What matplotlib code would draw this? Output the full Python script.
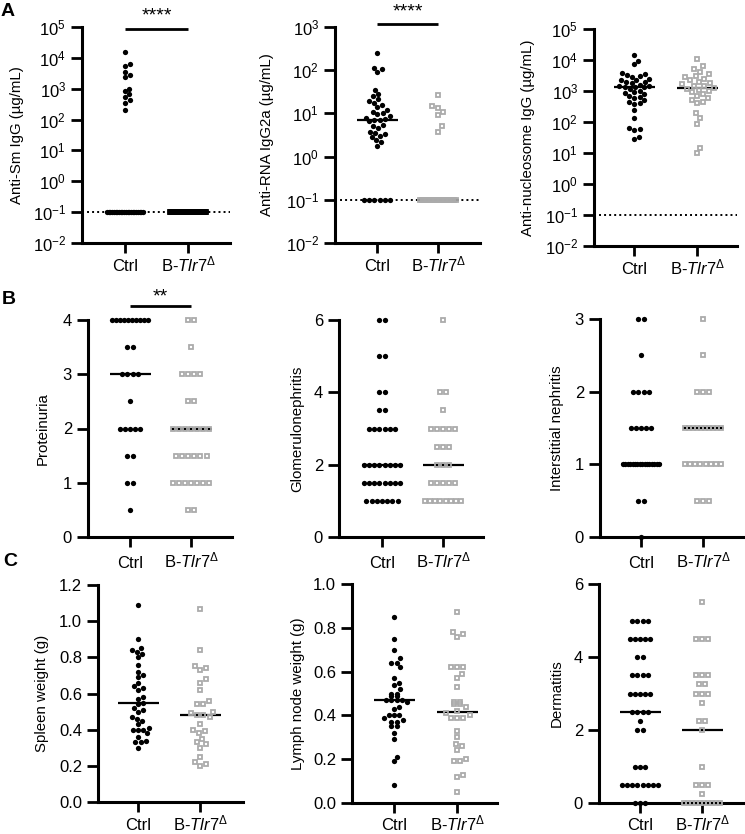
import numpy as np
import matplotlib
matplotlib.use("Agg")
import matplotlib.pyplot as plt
from matplotlib.transforms import blended_transform_factory

plt.rcParams.update({
    "font.family": ["Liberation Sans", "DejaVu Sans"],
    "mathtext.fontset": "custom",
    "mathtext.rm": "Liberation Sans",
    "mathtext.it": "Liberation Sans:italic",
    "mathtext.bf": "Liberation Sans:bold",
    "mathtext.default": "rm",
})

# ---------------- data ----------------
groups = ["Ctrl", r"B-$\mathit{Tlr7}^{\Delta}$"]

sm_ctrl = [15700, 6530, 5350, 3490, 2720, 2340, 1000, 820, 670, 520, 420, 340, 207] + [0.1] * 22
sm_b = [0.1] * 30

rna_ctrl = [256, 115, 104, 92, 35, 28, 25, 21, 19.5, 17.5, 16, 14, 12, 11, 10, 9.5, 8.5, 8,
            7.5, 7, 7, 6.5, 5.5, 5, 4.5, 3.8, 3.5, 3.3, 3.0, 2.8, 2.4, 2.2, 1.8] + [0.1] * 6
rna_b = [27, 15, 13, 11, 9, 5, 3.8] + [0.1] * 23

nuc_ctrl = [14500, 9600, 7400, 3700, 3500, 3200, 3000, 2800, 2500, 2300, 2200, 2000, 1900,
            1800, 1600, 1500, 1400, 1350, 1320, 1300, 1150, 1000, 900, 850, 800, 700, 650,
            600, 500, 450, 400, 380, 250, 130, 66, 60, 55, 34, 28]
nuc_b = [10500, 6400, 5000, 4200, 3500, 3000, 2800, 2500, 2200, 2000, 1800, 1700, 1500, 1400,
         1250, 1200, 1100, 1000, 900, 800, 700, 600, 500, 450, 400, 190, 130, 86, 15, 10]

prot_ctrl = [4] * 10 + [3.5] * 2 + [3] * 4 + [2.5] + [2] * 5 + [1.5] * 2 + [1] * 2 + [0.5]
prot_b = [4] * 2 + [3.5] + [3] * 4 + [2.5] * 2 + [2] * 7 + [1.5] * 6 + [1] * 7 + [0.5] * 2

glom_ctrl = [6] * 2 + [5] * 2 + [4] * 2 + [3.5] * 2 + [3] * 6 + [2] * 8 + [1.5] * 8 + [1] * 7
glom_b = [6] + [4] * 2 + [3.5] + [3] * 5 + [2.5] * 3 + [2] * 3 + [1.5] * 5 + [1] * 8

inter_ctrl = [3] * 2 + [2.5] + [2] * 4 + [1.5] * 5 + [1] * 16 + [0.5] * 2 + [0]
inter_b = [3] + [2.5] + [2] * 3 + [1.5] * 10 + [1] * 8 + [0.5] * 3

spleen_ctrl = [1.09, 0.90, 0.85, 0.84, 0.83, 0.82, 0.80, 0.76, 0.72, 0.70, 0.69, 0.66, 0.64,
               0.63, 0.62, 0.58, 0.57, 0.55, 0.54, 0.52, 0.51, 0.50, 0.47, 0.46, 0.45, 0.43,
               0.41, 0.40, 0.40, 0.40, 0.38, 0.36, 0.34, 0.33, 0.33, 0.30]
spleen_b = [1.07, 0.84, 0.75, 0.74, 0.73, 0.68, 0.66, 0.62, 0.56, 0.54, 0.54, 0.50, 0.49, 0.48,
            0.48, 0.47, 0.43, 0.40, 0.39, 0.38, 0.35, 0.33, 0.32, 0.30, 0.25, 0.22, 0.21, 0.20]

lymph_ctrl = [0.85, 0.75, 0.70, 0.66, 0.64, 0.64, 0.62, 0.57, 0.55, 0.54, 0.52, 0.50, 0.50,
              0.49, 0.49, 0.47, 0.47, 0.47, 0.47, 0.46, 0.44, 0.43, 0.40, 0.40, 0.40, 0.39,
              0.37, 0.38, 0.37, 0.35, 0.35, 0.32, 0.29, 0.21, 0.19, 0.08]
lymph_b = [0.87, 0.77, 0.78, 0.76, 0.62, 0.62, 0.62, 0.59, 0.57, 0.53, 0.46, 0.46, 0.45, 0.45,
           0.44, 0.42, 0.41, 0.40, 0.39, 0.39, 0.39, 0.33, 0.30, 0.27, 0.26, 0.24, 0.20, 0.19,
           0.19, 0.13, 0.12, 0.05]

derm_ctrl = [5] * 4 + [4.5] * 5 + [4] * 2 + [3.5] * 4 + [3] * 5 + [2.5] * 4 + [2.25] + [2] * 2 \
    + [1] * 3 + [0.5] * 8 + [0] * 3
derm_b = [5.5] + [4.5] * 3 + [3.5] * 3 + [3.25] * 2 + [3] * 3 + [2.75] + [2.25] * 2 + [2] + [1] \
    + [0.5] * 3 + [0.25] + [0] * 10

# ---------------- layout / style ----------------
W, H = 745, 834
fig = plt.figure(figsize=(W / 100, H / 100), dpi=100)
GRAY = "#ABABAB"
TICK_FS = 12
LAB_FS = 10.8

panels = [
    dict(c=sm_ctrl, b=sm_b, log=True, ylim=(1e-2, 1e5), yt=range(-2, 6), bcol="k",
         lab="Anti-Sm IgG (µg/mL)", box=(82, 27, 230, 243, 125, 188), labx=17,
         lod=0.1, sig="****", sigy=(0.993, 1.051), xpad=12.7),
    dict(c=rna_ctrl, b=rna_b, log=True, ylim=(1e-2, 1e3), yt=range(-2, 4), bcol=GRAY,
         lab="Anti-RNA IgG2a (µg/mL)", box=(335, 27, 480, 243, 377, 438), labx=267,
         lod=0.1, sig="****", sigy=(1.016, 1.069), xpad=12.7),
    dict(c=nuc_ctrl, b=nuc_b, log=True, ylim=(1e-2, 1e5), yt=range(-2, 6), bcol=GRAY,
         lab="Anti-nucleosome IgG (µg/mL)", box=(594, 29, 737, 246, 634, 697), labx=528,
         lod=0.1, xpad=12.7),
    dict(c=prot_ctrl, b=prot_b, ylim=(0, 4), yt=[0, 1, 2, 3, 4], bcol=GRAY,
         lab="Proteinuria", box=(88, 320, 232, 537, 130, 191), labx=43,
         sig="**", sigy=(1.065, 1.108), xpad=14.5),
    dict(c=glom_ctrl, b=glom_b, ylim=(0, 6), yt=[0, 2, 4, 6], bcol=GRAY,
         lab="Glomerulonephritis", box=(339, 320, 483, 537, 382, 443), labx=297, xpad=14.5),
    dict(c=inter_ctrl, b=inter_b, ylim=(0, 3), yt=[0, 1, 2, 3], bcol=GRAY,
         lab="Interstitial nephritis", box=(600, 319, 745, 537, 641, 703), labx=557,
         xpad=14.5),
    dict(c=spleen_ctrl, b=spleen_b, ylim=(0, 1.2), yt=[0, 0.2, 0.4, 0.6, 0.8, 1.0, 1.2],
         fmt="{:.1f}", bcol=GRAY, lab="Spleen weight (g)",
         box=(98, 585, 243, 802, 138, 200), labx=42, xpad=12.7),
    dict(c=lymph_ctrl, b=lymph_b, ylim=(0, 1.0), yt=[0, 0.2, 0.4, 0.6, 0.8, 1.0],
         fmt="{:.1f}", bcol=GRAY, lab="Lymph node weight (g)",
         box=(352, 584, 497, 803, 394, 457), labx=298, xpad=12.2),
    dict(c=derm_ctrl, b=derm_b, ylim=(0, 6), yt=[0, 2, 4, 6], bcol=GRAY,
         lab="Dermatitis", box=(599, 584, 745, 803, 640, 702), labx=557, xpad=12.2),
]


def swarm(ax, vals, center, d_px, maxw_px):
    vals = np.asarray(vals, float)
    ypix = ax.transData.transform(np.column_stack([np.zeros_like(vals), vals]))[:, 1]
    ppu = ax.transData.transform([[1, 0]])[0, 0] - ax.transData.transform([[0, 0]])[0, 0]
    offs = np.full(len(vals), np.nan)
    placed = []
    uniq, counts = np.unique(vals, return_counts=True)
    for u, n in zip(uniq, counts):
        if n > 1:
            idx = np.where(vals == u)[0]
            s = min(d_px, 2 * maxw_px / (n - 1))
            pos = (np.arange(n) - (n - 1) / 2) * s
            offs[idx] = pos
            placed += [(p, ypix[idx[0]]) for p in pos]
    steps = np.arange(0.5, maxw_px + 1e-9, 0.5)
    cands = np.concatenate([[0.0], np.ravel(np.column_stack([steps, -steps]))])
    for i in np.argsort(ypix):
        if not np.isnan(offs[i]):
            continue
        y = ypix[i]
        best_c, best_m = 0.0, -1.0
        for c in cands:
            m = min([np.hypot(c - px, y - py) for px, py in placed], default=1e9)
            if m >= d_px:
                best_c = c
                break
            if m > best_m:
                best_m, best_c = m, c
        offs[i] = best_c
        placed.append((best_c, y))
    return center + offs / ppu, ppu


for p in panels:
    left, top, right, bottom, xc, xb = p["box"]
    ax = fig.add_axes([left / W, 1 - bottom / H, (right - left) / W, (bottom - top) / H])
    ppu0 = xb - xc
    ax.set_xlim(-(xc - left) / ppu0, 1 + (right - xb) / ppu0)
    if p.get("log"):
        ax.set_yscale("log")
    ax.set_ylim(*p["ylim"])
    for s in ("top", "right"):
        ax.spines[s].set_visible(False)
    for s in ("left", "bottom"):
        ax.spines[s].set_linewidth(2.2)
    ax.tick_params(axis="y", direction="out", length=8, width=2, pad=3.5, labelsize=TICK_FS)
    ax.tick_params(axis="x", direction="out", length=7.5, width=2, pad=p["xpad"],
                   labelsize=TICK_FS)
    ax.tick_params(which="minor", length=0)
    ax.set_xticks([0, 1])
    ax.set_xticklabels(groups)
    for lbl in ax.get_xticklabels():
        lbl.set_verticalalignment("baseline")
    if p.get("log"):
        ticks = [10.0 ** e for e in p["yt"]]
        ax.set_yticks(ticks)
        ax.set_yticklabels([r"$10^{%d}$" % e for e in p["yt"]])
    else:
        ax.set_yticks(p["yt"])
        fmt = p.get("fmt", "{:g}")
        ax.set_yticklabels([fmt.format(v) for v in p["yt"]])

    if "lod" in p:
        ax.axhline(p["lod"], color="k", lw=1.4, ls=(0, (1, 1.6)), zorder=1)

    xs_c, ppu = swarm(ax, p["c"], 0, 5.2, 18)
    xs_b, _ = swarm(ax, p["b"], 1, 6.2, 18)
    half = 20.5 / ppu
    med_c = np.median(p["c"])
    med_b = np.median(p["b"])
    ax.plot([1 - half, 1 + half], [med_b, med_b], color="k", lw=1.6, zorder=2,
            solid_capstyle="butt")
    ax.plot(xs_b, p["b"], "s", ms=3.4, mfc="none", mec=p["bcol"], mew=1.3,
            clip_on=False, zorder=3)
    ax.plot(xs_c, p["c"], "o", ms=3.8, color="k", mew=0, clip_on=False, zorder=4)
    ax.plot([-half, half], [med_c, med_c], color="k", lw=1.6, zorder=5,
            solid_capstyle="butt")

    if "sig" in p:
        tr = blended_transform_factory(ax.transData, ax.transAxes)
        yb, yt = p["sigy"]
        ax.plot([0, 1], [yb, yb], color="k", lw=2, transform=tr, clip_on=False,
                solid_capstyle="butt")
        ax.text(0.5, yt, p["sig"], transform=tr, ha="center", va="center", fontsize=14)

    fig.text(p["labx"] / W, 1 - ((top + bottom) / 2) / H, p["lab"], rotation=90,
             ha="center", va="center", fontsize=LAB_FS)

for letter, (x, y) in zip("ABC", [(8, 11), (9, 300), (10, 562)]):
    fig.text(x / W, 1 - y / H, letter, fontsize=14, fontweight="bold", ha="center",
             va="center")

fig.savefig("out.png", dpi=100)
